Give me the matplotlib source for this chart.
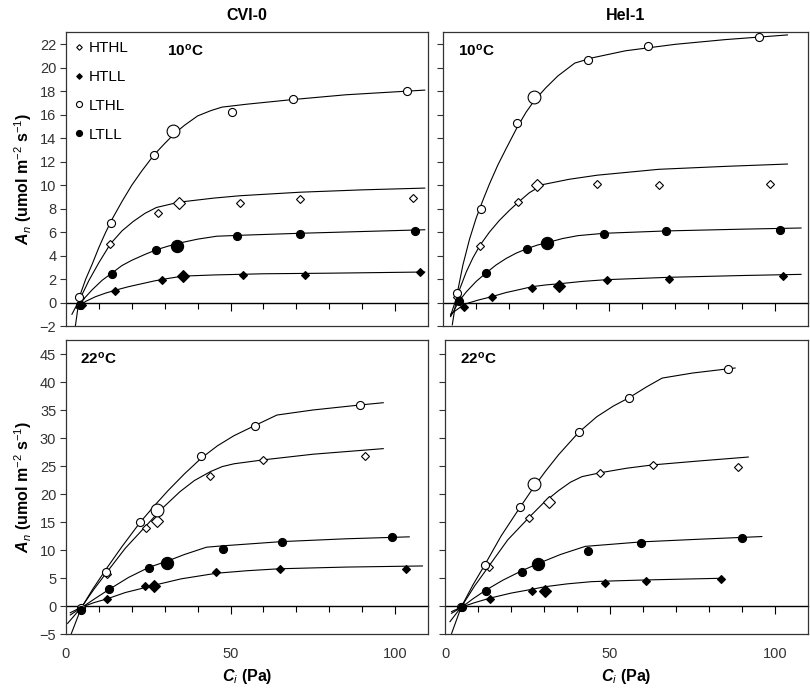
import numpy as np
import matplotlib
matplotlib.use('Agg')
import matplotlib.pyplot as plt

plt.rcParams['font.family'] = ['Liberation Sans', 'DejaVu Sans']
plt.rcParams['mathtext.fontset'] = 'custom'
plt.rcParams['mathtext.rm'] = 'Liberation Sans'
plt.rcParams['mathtext.it'] = 'Liberation Sans:italic'
plt.rcParams['mathtext.bf'] = 'Liberation Sans:bold'
if 'mathtext.bfit' in plt.rcParams:
    plt.rcParams['mathtext.bfit'] = 'Liberation Sans:italic:bold'

series = ['HTHL', 'HTLL', 'LTHL', 'LTLL']

# measured points (Ci in Pa, An in umol m-2 s-1)
cvi10_pts = {
    'LTHL': ([4.1, 13.7, 26.8, 50.3, 69.1, 103.5], [0.5, 6.8, 12.6, 16.2, 17.3, 18.0]),
    'HTHL': ([4.4, 13.5, 28.1, 52.9, 71.2, 105.3], [0.4, 5.0, 7.6, 8.5, 8.8, 8.9]),
    'LTLL': ([4.4, 13.9, 27.5, 52.0, 71.1, 106.2], [-0.2, 2.4, 4.5, 5.65, 5.85, 6.1]),
    'HTLL': ([4.8, 15.0, 29.2, 53.8, 72.6, 107.5], [-0.2, 1.0, 1.9, 2.35, 2.35, 2.6]),
}
hel10_pts = {
    'LTHL': ([4.3, 11.6, 22.3, 43.7, 61.9, 95.3], [0.77, 8.0, 15.3, 20.65, 21.85, 22.6]),
    'HTHL': ([4.3, 11.2, 22.7, 46.5, 65.0, 98.6], [0.5, 4.8, 8.6, 10.1, 10.05, 10.1]),
    'LTLL': ([4.8, 12.9, 25.4, 48.6, 67.3, 101.6], [0.15, 2.5, 4.6, 5.85, 6.1, 6.2]),
    'HTLL': ([6.4, 14.7, 26.8, 49.4, 68.2, 102.4], [-0.4, 0.43, 1.28, 1.9, 2.0, 2.3]),
}
cvi22_pts = {
    'LTHL': ([4.6, 12.2, 22.6, 41.1, 57.3, 89.4], [-0.4, 6.1, 15.0, 26.7, 32.1, 35.9]),
    'HTHL': ([4.6, 12.5, 24.3, 43.9, 60.0, 90.8], [-0.4, 5.7, 14.0, 23.3, 26.1, 26.7]),
    'LTLL': ([4.7, 13.2, 25.2, 47.7, 65.6, 99.1], [-0.7, 3.0, 6.8, 10.2, 11.4, 12.3]),
    'HTLL': ([4.7, 12.6, 24.1, 45.7, 64.9, 103.3], [-0.5, 1.3, 3.5, 6.0, 6.6, 6.55]),
}
hel22_pts = {
    'LTHL': ([4.9, 12.1, 22.7, 40.5, 55.8, 85.8], [-0.2, 7.4, 17.6, 31.0, 37.1, 42.4]),
    'HTHL': ([4.9, 13.4, 25.6, 47.1, 63.0, 88.9], [-0.2, 6.9, 15.7, 23.7, 25.1, 24.9]),
    'LTLL': ([5.1, 12.3, 23.3, 43.3, 59.5, 89.9], [-0.2, 2.6, 6.1, 9.9, 11.3, 12.2]),
    'HTLL': ([5.0, 13.6, 26.5, 48.4, 60.8, 83.7], [-0.2, 1.25, 2.6, 4.1, 4.5, 4.8]),
}

# highlighted (large) points
cvi10_big = {'LTHL': (32.5, 14.6), 'HTHL': (34.3, 8.5), 'LTLL': (33.7, 4.85), 'HTLL': (35.5, 2.25)}
hel10_big = {'LTHL': (27.5, 17.5), 'HTHL': (28.4, 10.0), 'LTLL': (31.4, 5.1), 'HTLL': (35.1, 1.4)}
cvi22_big = {'LTHL': (27.8, 17.2), 'HTHL': (27.7, 15.1), 'LTLL': (30.7, 7.75), 'HTLL': (26.7, 3.5)}
hel22_big = {'LTHL': (27.0, 21.8), 'HTHL': (31.4, 18.6), 'LTLL': (28.3, 7.5), 'HTLL': (30.4, 2.75)}

# fitted model curves
cvi10_fit = {
    'LTHL': ([2.8, 4.1, 6, 8, 10, 12, 14, 17, 20, 23, 26.8, 30, 33, 36, 40, 44, 47.4, 55, 69.1, 85, 109],
             [-2.1, 0.5, 2.0, 3.3, 4.7, 5.95, 7.1, 8.6, 10.0, 11.2, 12.6, 13.55, 14.4, 15.1, 15.9, 16.35,
              16.65, 16.9, 17.3, 17.7, 18.1]),
    'HTHL': ([1.8, 4.4, 7, 10, 13.5, 17, 20.4, 24, 27.5, 34.3, 45, 52.9, 71.2, 90, 109],
             [-1.0, 0.4, 1.9, 3.4, 5.0, 6.1, 6.9, 7.6, 8.1, 8.55, 8.9, 9.1, 9.4, 9.6, 9.75]),
    'LTLL': ([3.1, 4.4, 8, 11, 13.9, 17, 20, 24, 27.5, 31, 35, 40, 45.8, 55, 71.1, 90, 109],
             [-0.5, 0.0, 1.1, 1.9, 2.5, 3.15, 3.6, 4.1, 4.5, 4.8, 5.1, 5.4, 5.65, 5.75, 5.9, 6.05, 6.2]),
    'HTLL': ([3.6, 6, 9, 12, 15, 19, 23, 27, 31, 35.5, 45, 60, 80, 109],
             [-0.4, 0.1, 0.5, 0.8, 1.05, 1.35, 1.6, 1.85, 2.05, 2.25, 2.35, 2.45, 2.5, 2.6]),
}
hel10_fit = {
    'LTHL': ([2.8, 4.3, 6, 8, 10, 12, 14, 16.5, 19, 22.3, 25, 27.5, 31, 34.6, 39.7, 45, 55, 70, 85, 103.8],
             [-1.9, 0.8, 3.2, 5.4, 7.2, 8.7, 10.1, 11.7, 13.1, 14.9, 16.2, 17.2, 18.3, 19.3, 20.4, 20.85,
              21.45, 22.0, 22.4, 22.8]),
    'HTHL': ([2.3, 4.3, 7, 9, 11.2, 14, 17, 20, 22.7, 26, 30.1, 38, 46.5, 65, 85, 103.8],
             [-1.1, 0.6, 2.6, 3.8, 4.9, 6.0, 7.0, 7.85, 8.55, 9.35, 10.05, 10.5, 10.85, 11.35, 11.6, 11.8]),
    'LTLL': ([2.3, 4.8, 7, 10, 12.9, 16, 19, 22, 25.4, 28.5, 31.4, 36, 40.7, 48.6, 67.3, 90, 107.9],
             [-1.2, 0.1, 0.9, 1.8, 2.5, 3.2, 3.75, 4.2, 4.6, 4.9, 5.1, 5.45, 5.7, 5.9, 6.1, 6.25, 6.35]),
    'HTLL': ([2.3, 6.4, 10.5, 14.7, 19, 23, 26.8, 31, 35.1, 42, 49.4, 68.2, 90, 107.9],
             [-1.0, -0.15, 0.2, 0.5, 0.85, 1.1, 1.35, 1.5, 1.6, 1.8, 1.95, 2.15, 2.3, 2.4]),
}
cvi22_fit = {
    'LTHL': ([1.5, 4.6, 8, 12.2, 17, 22.6, 27, 31, 36, 41.1, 46, 51, 57.3, 64.1, 75, 89.4, 96.4],
             [-5.1, -0.4, 2.9, 6.6, 10.6, 15.0, 18.0, 20.6, 23.6, 26.4, 28.6, 30.4, 32.2, 34.1, 35.0,
              35.9, 36.3]),
    'HTHL': ([0.5, 4.6, 8.5, 12.5, 18, 24.3, 29, 34.6, 39, 43.9, 47.5, 51.1, 60, 75, 96.4],
             [-3.1, -0.3, 3.0, 6.1, 10.3, 14.3, 17.3, 20.4, 22.4, 24.0, 24.9, 25.4, 26.1, 27.1, 28.1]),
    'LTLL': ([1.3, 4.7, 9, 13.2, 19, 25.2, 30.7, 36, 42.7, 47.7, 65.6, 85, 104.3],
             [-1.6, -0.3, 1.4, 3.0, 5.1, 6.9, 8.0, 9.2, 10.5, 10.75, 11.5, 12.0, 12.35]),
    'HTLL': ([1.3, 4.7, 8.5, 12.6, 18, 24.1, 26.7, 35, 45.7, 55, 64.9, 85, 108.3],
             [-1.2, -0.2, 0.6, 1.3, 2.4, 3.3, 3.7, 4.85, 5.85, 6.3, 6.65, 6.95, 7.15]),
}
hel22_fit = {
    'LTHL': ([2.0, 4.9, 8.5, 12.1, 17, 22.7, 27, 30.5, 34.4, 40.5, 46, 51, 55.8, 61, 65.8, 75, 87.9],
             [-4.9, -0.2, 3.8, 7.4, 12.5, 17.6, 21.3, 24.1, 27.0, 31.0, 33.8, 35.7, 37.2, 39.1, 40.7,
              41.6, 42.5]),
    'HTHL': ([1.5, 4.9, 9, 13.4, 19, 25.6, 30, 34.4, 38, 41.5, 47.1, 55, 63, 77, 91.9],
             [-2.8, -0.2, 3.6, 7.2, 11.8, 15.9, 18.5, 20.6, 22.1, 23.1, 23.8, 24.6, 25.2, 25.9, 26.6]),
    'LTLL': ([2.0, 5.1, 8.5, 12.3, 17.5, 23.3, 28.3, 35, 42.5, 50, 59.5, 78, 96],
             [-1.3, -0.2, 1.3, 2.8, 4.6, 6.3, 7.6, 9.2, 10.65, 11.0, 11.45, 11.95, 12.4]),
    'HTLL': ([2.0, 5.0, 9, 13.6, 20, 26.5, 30.4, 37, 44.5, 52, 60.8, 72, 83.7],
             [-1.0, -0.2, 0.6, 1.4, 2.3, 3.0, 3.45, 3.95, 4.35, 4.5, 4.65, 4.8, 4.95]),
}

styles = {
    'HTHL': dict(marker='D', mfc='white', mec='black', ms=3.8, big=5.8),
    'HTLL': dict(marker='D', mfc='black', mec='black', ms=3.8, big=5.8),
    'LTHL': dict(marker='o', mfc='white', mec='black', ms=5.8, big=9.2),
    'LTLL': dict(marker='o', mfc='black', mec='black', ms=5.8, big=8.8),
}

panels = [
    # pts, big, fit, rect, ylim, yticks, temp, left labels, bottom labels
    (cvi10_pts, cvi10_big, cvi10_fit, [66, 32, 428, 326], (-2, 23.05), np.arange(-2, 23, 2), '10', True, False),
    (hel10_pts, hel10_big, hel10_fit, [443, 32, 808, 326], (-2, 23.05), np.arange(-2, 23, 2), '10', False, False),
    (cvi22_pts, cvi22_big, cvi22_fit, [66, 340, 428, 634], (-5, 47.5), np.arange(-5, 46, 5), '22', True, True),
    (hel22_pts, hel22_big, hel22_fit, [445, 340, 808, 634], (-5, 47.5), np.arange(-5, 46, 5), '22', False, True),
]

W, H = 810, 691
fig = plt.figure(figsize=(W / 100, H / 100), dpi=100)
axes = []
for i, (pts, big, fit, r, ylim, yt, temp, lab_y, lab_x) in enumerate(panels):
    ax = fig.add_axes([r[0] / W, 1 - r[3] / H, (r[2] - r[0]) / W, (r[3] - r[1]) / H])
    axes.append(ax)
    for s in series:
        st = styles[s]
        ax.plot(fit[s][0], fit[s][1], color='black', lw=0.8, zorder=2)
        ax.plot(pts[s][0], pts[s][1], ls='none', marker=st['marker'], ms=st['ms'],
                mfc=st['mfc'], mec=st['mec'], mew=0.8, zorder=3, label=s)
        ax.plot([big[s][0]], [big[s][1]], ls='none', marker=st['marker'], ms=st['big'],
                mfc=st['mfc'], mec=st['mec'], mew=0.8, zorder=3)
    ax.set_xlim(0, 110)
    ax.set_ylim(*ylim)
    ax.set_yticks(yt)
    ax.tick_params(axis='y', direction='out', length=4, width=0.8, color='#333',
                   labelsize=10.5, labelcolor='#333', labelleft=lab_y, pad=3)
    ax.set_xticks([0, 50, 100])
    ax.tick_params(axis='x', length=0, labelsize=10.5, labelcolor='#333',
                   labelbottom=lab_x, pad=9)
    for sp in ax.spines.values():
        sp.set_color('#333')
        sp.set_linewidth(0.9)

    # zero line carrying the Ci ticks
    zero = (0 - ylim[0]) / (ylim[1] - ylim[0])
    sec = ax.secondary_xaxis(zero)
    sec.spines['bottom'].set_linewidth(1.0)
    sec.set_xticks([50, 100])
    sec.set_xticks(np.arange(10, 110, 10), minor=True)
    sec.tick_params(which='major', direction='out', length=6, width=0.8, labelbottom=False)
    sec.tick_params(which='minor', direction='out', length=4, width=0.8)

    tx = 0.28 if i == 0 else 0.04
    ax.text(tx, 0.965, temp + r'$^\mathbf{o}$C', transform=ax.transAxes,
            fontsize=11, fontweight='bold', va='top', ha='left')
    if lab_y:
        ax.set_ylabel(r'$\mathbfit{A}_\mathit{n}$ (umol m$^{-2}$ s$^{-1}$)',
                      fontsize=11.5, fontweight='bold', labelpad=4)
    if lab_x:
        ax.set_xlabel(r'$\mathbfit{C}_\mathit{i}$ (Pa)', fontsize=11.5,
                      fontweight='bold', labelpad=5)

axes[0].legend(loc='upper left', frameon=False, fontsize=11, markerscale=0.75,
               handlelength=0.5, handletextpad=0.4, labelspacing=0.97,
               borderaxespad=0.3, borderpad=0.3)
axes[0].set_title('CVI-0', fontsize=11.5, fontweight='bold', pad=9)
axes[1].set_title('Hel-1', fontsize=11.5, fontweight='bold', pad=9)

fig.savefig('out.png', dpi=100)
